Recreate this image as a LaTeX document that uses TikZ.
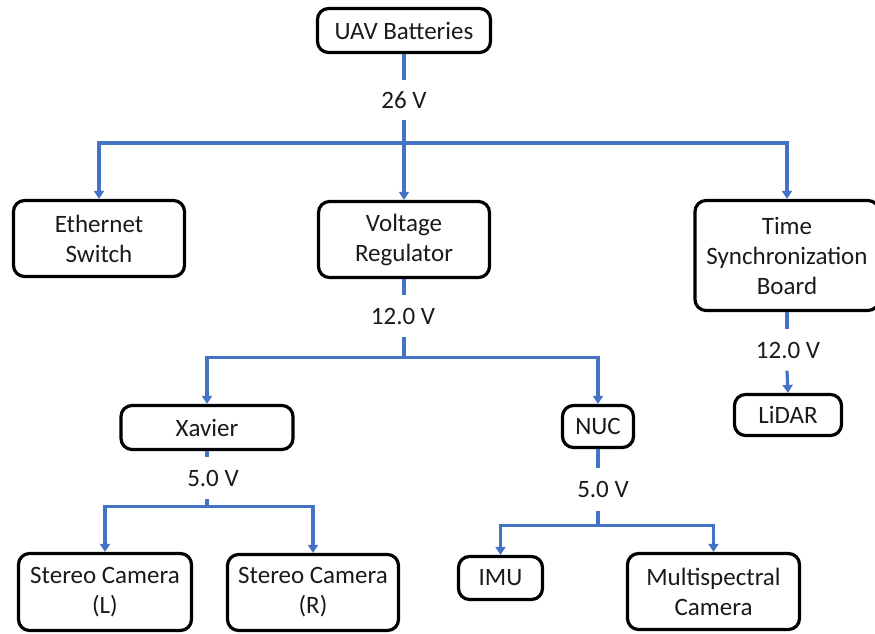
\documentclass[tikz,border=0pt]{standalone}
\usepackage{fontspec}
\setmainfont{Carlito}
\usetikzlibrary{arrows.meta}
\definecolor{wireblue}{HTML}{4472C4}
\definecolor{boxtext}{HTML}{1A1A1A}
\begin{document}
\begin{tikzpicture}[x=1pt,y=-1pt,
  box/.style={draw=black,line width=3.2pt,rounded corners=11pt,align=center,inner sep=0pt,text=boxtext,font=\fontsize{25}{30}\selectfont},
  vlabel/.style={inner sep=0pt,text=boxtext,font=\fontsize{25}{30}\selectfont},
  wire/.style={draw=wireblue,line width=3.2pt},
  arr/.style={wire,-{Triangle[width=10pt,length=8pt]}}]
\useasboundingbox (0,0) rectangle (875,634);
% boxes
\node[box,minimum width=173pt,minimum height=44pt] (bat) at (404,30.5) {UAV Batteries};
\node[box,minimum width=171pt,minimum height=76pt] (eth) at (99,238.5) {Ethernet\\Switch};
\node[box,minimum width=171pt,minimum height=76pt] (vr) at (404,239.5) {Voltage\\Regulator};
\node[box,minimum width=184pt,minimum height=110pt] (tsb) at (787,255.5) {Time\\Synchronization\\Board};
\node[box,minimum width=172pt,minimum height=44pt] (xav) at (207,427.5) {Xavier};
\node[box,minimum width=71pt,minimum height=42pt] (nuc) at (598,426.5) {NUC};
\node[box,minimum width=107pt,minimum height=41pt] (lidar) at (788,415) {LiDAR};
\node[box,minimum width=173pt,minimum height=77pt] (stL) at (105,592) {Stereo Camera\\(L)};
\node[box,minimum width=171pt,minimum height=76pt] (stR) at (313,592.5) {Stereo Camera\\(R)};
\node[box,minimum width=84pt,minimum height=43pt] (imu) at (500.5,578) {IMU};
\node[box,minimum width=172pt,minimum height=76pt] (ms) at (713.5,591.5) {Multispectral\\Camera};
% voltage labels
\node[vlabel,minimum height=40pt] (l26) at (404,100) {26 V};
\node[vlabel,minimum height=42pt] (l12a) at (403,316) {12.0 V};
\node[vlabel,minimum height=41pt] (l12b) at (788,350) {12.0 V};
\node[vlabel,minimum height=42pt] (l5a) at (213,478) {5.0 V};
\node[vlabel,minimum height=43pt] (l5b) at (603,489.5) {5.0 V};
% junctions
\coordinate (j1) at (404,143);
\path (vr.south) ++(0,78) coordinate (j2);
\path (xav.south) ++(0,55.5) coordinate (j3);
\path (nuc.south) ++(0,76.5) coordinate (j4);
% 26 V tree
\draw[wire] (bat.south) -- (l26.north);
\draw[arr] (l26.south) -- (vr.north);
\draw[arr] (j1) -| (eth.north);
\draw[arr] (j1) -| (tsb.north);
% 12 V from regulator
\draw[wire] (vr.south) -- (vr.south |- l12a.north);
\draw[wire] (vr.south |- l12a.south) -- (j2);
\draw[arr] (j2) -| (xav.north);
\draw[arr] (j2) -| (nuc.north);
% 12 V from time sync board
\draw[wire] (tsb.south) -- (tsb.south |- l12b.north);
\draw[arr] (tsb.south |- l12b.south) -- (lidar.north);
% 5 V from Xavier
\draw[wire] (xav.south) -- (xav.south |- l5a.north);
\draw[wire] (xav.south |- l5a.south) -- (j3);
\draw[arr] (j3) -| (stL.north);
\draw[arr] (j3) -| (stR.north);
% 5 V from NUC
\draw[wire] (nuc.south) -- (nuc.south |- l5b.north);
\draw[wire] (nuc.south |- l5b.south) -- (j4);
\draw[arr] (j4) -| (imu.north);
\draw[arr] (j4) -| (ms.north);
\end{tikzpicture}
\end{document}
